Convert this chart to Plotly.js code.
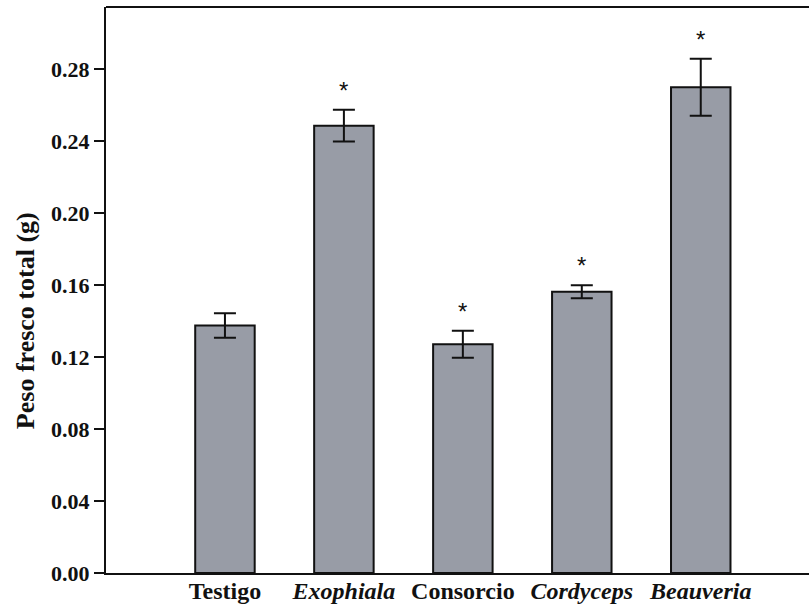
<!DOCTYPE html>
<html>
<head>
<meta charset="utf-8">
<script src="https://cdn.plot.ly/plotly-3.0.1.min.js"></script>
<style>html,body{margin:0;padding:0;background:#fff;}#chart{width:809px;height:607px;}</style>
</head>
<body>
<div id="chart"></div>
<script>
const categories = ["Testigo", "Exophiala", "Consorcio", "Cordyceps", "Beauveria"];
const tickLabels = ["<b>Testigo</b>", "<b><i>Exophiala</i></b>", "<b>Consorcio</b>", "<b><i>Cordyceps</i></b>", "<b><i>Beauveria</i></b>"];
const values = [0.1375, 0.2485, 0.127, 0.1562, 0.2698];
const errors = [0.0068, 0.0088, 0.0075, 0.0036, 0.0158];
const significant = [false, true, true, true, true];
const yTicks = [0, 0.04, 0.08, 0.12, 0.16, 0.20, 0.24, 0.28];
const yTitle = "Peso fresco total (g)";

const xIdx = categories.map((c, i) => i);
const serif = "Liberation Serif, Times New Roman, serif";

const trace = {
  type: "bar",
  x: xIdx,
  y: values,
  width: 0.5,
  marker: {color: "#989ca6", line: {color: "#111", width: 2}},
  error_y: {type: "data", array: errors, visible: true, color: "#111", thickness: 2, width: 11},
  hoverinfo: "skip"
};

const annotations = [];
xIdx.forEach((i) => {
  if (significant[i]) {
    annotations.push({
      x: i, y: values[i] + errors[i], xref: "x", yref: "y",
      text: "*", showarrow: false, yanchor: "bottom", yshift: 4,
      font: {family: "Liberation Sans, Arial, sans-serif", size: 24, color: "#111"}
    });
  }
});
// y-axis title, placed slightly below the axis centre as in the reference
annotations.push({
  xref: "paper", yref: "paper", x: 0, y: 0.445, xshift: -81,
  xanchor: "center", yanchor: "middle", textangle: -90, showarrow: false,
  text: "<b>" + yTitle + "</b>",
  font: {family: serif, size: 26, color: "#111"}
});

const layout = {
  width: 809, height: 607,
  margin: {l: 106, r: 0, t: 7, b: 34},
  paper_bgcolor: "#fff", plot_bgcolor: "#fff",
  showlegend: false,
  bargap: 0.5,
  xaxis: {
    range: [-1.0, 4.91],
    tickvals: xIdx, ticktext: tickLabels,
    showline: true, linecolor: "#111", linewidth: 2,
    ticks: "", showgrid: false, zeroline: false,
    tickfont: {family: serif, size: 24, color: "#111"},
    ticklabelstandoff: -5,
    fixedrange: true
  },
  yaxis: {
    range: [0, 0.3144],
    tickvals: yTicks, ticktext: yTicks.map(v => "<b>" + v.toFixed(2) + "</b>"),
    showline: true, linecolor: "#111", linewidth: 2,
    ticks: "outside", ticklen: 10, tickwidth: 2, tickcolor: "#111",
    showgrid: false, zeroline: false,
    tickfont: {family: serif, size: 22, color: "#111"},
    fixedrange: true
  },
  shapes: [{type: "line", xref: "paper", yref: "paper", x0: 0, x1: 1, y0: 1, y1: 1, line: {color: "#111", width: 2}}],
  annotations: annotations
};

Plotly.newPlot("chart", [trace], layout, {displayModeBar: false, staticPlot: true});
</script>
</body>
</html>
